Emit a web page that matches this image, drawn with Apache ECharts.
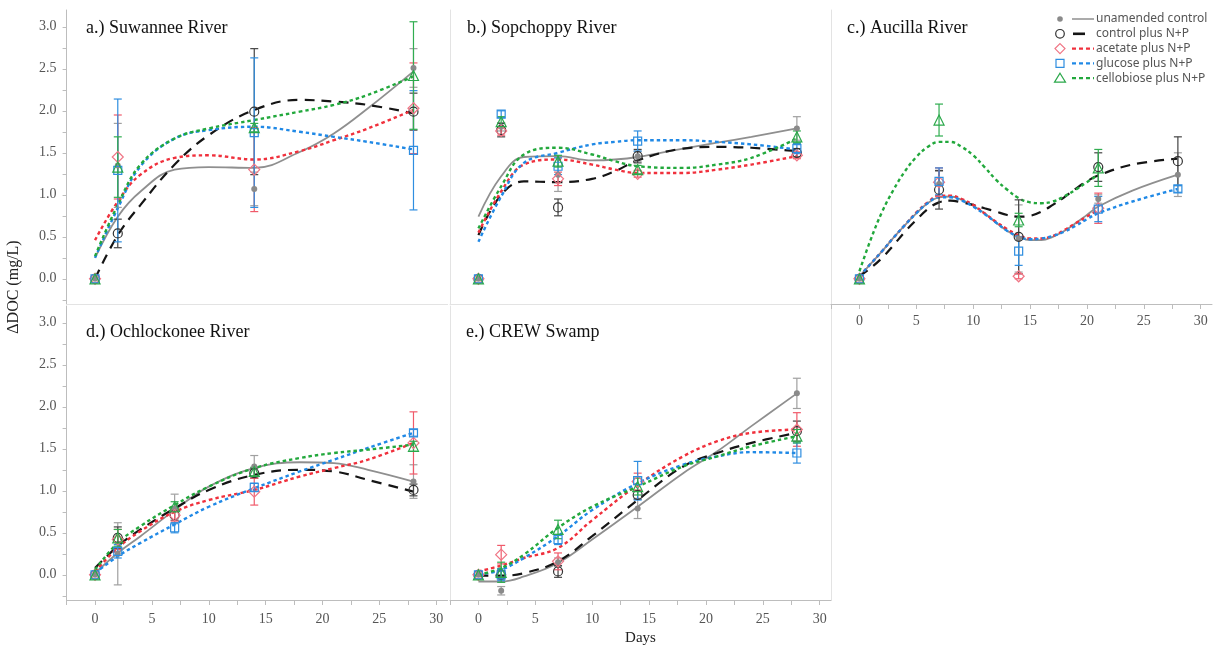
<!DOCTYPE html>
<html><head><meta charset="utf-8">
<script src="https://cdn.jsdelivr.net/npm/echarts@6/dist/echarts.min.js"></script>
<style>html,body{margin:0;padding:0;background:#fff}#c{width:1214px;height:649px}</style>
</head><body><div id="c"></div>
<script>
// ---------- DATA ----------
const seriesNames = ['unamended control','control plus N+P','acetate plus N+P','glucose plus N+P','cellobiose plus N+P'];
const panelTitles = ['a.) Suwannee River','b.) Sopchoppy River','c.) Aucilla River','d.) Ochlockonee River','e.) CREW Swamp'];
const xTickLabels = [0,5,10,15,20,25,30];
const xTickMarks = [-2.5,0,2.5,5,7.5,10,12.5,15,17.5,20,22.5,25,27.5,30];
const yTickLabels = [0,0.5,1,1.5,2,2.5,3];
const yTickMarks = [-0.25,0,0.25,0.5,0.75,1,1.25,1.5,1.75,2,2.25,2.5,2.75,3];

// Panel a: Suwannee River (rows: unamended, control, acetate, glucose, cellobiose)
const aDays = [0, 2, 14, 28];
const aMean = [
  [0, 1.35, 1.07, 2.51],
  [0, 0.54, 1.99, 1.99],
  [0, 1.45, 1.30, 2.03],
  [0, 1.29, 1.74, 1.53],
  [0, 1.33, 1.80, 2.42]
];
const aErr = [
  [0, 0.50, 0.20, 0.23],
  [0, 0.17, 0.75, 0.22],
  [0, 0.50, 0.50, 0.54],
  [0, 0.85, 0.89, 0.71],
  [0, 0.36, 0.05, 0.64]
];
const aFitDays = [0, 2, 4, 7, 10, 14, 18, 21, 24, 28];
const aFit = [
  [0.25, 0.74, 1.04, 1.30, 1.33, 1.32, 1.51, 1.73, 2.03, 2.47],
  [0.00, 0.52, 0.88, 1.36, 1.71, 2.01, 2.13, 2.11, 2.07, 1.97],
  [0.46, 0.92, 1.24, 1.44, 1.47, 1.42, 1.52, 1.65, 1.79, 2.01],
  [0.25, 0.84, 1.34, 1.67, 1.77, 1.81, 1.75, 1.69, 1.63, 1.54],
  [0.27, 0.88, 1.36, 1.67, 1.79, 1.89, 1.99, 2.07, 2.19, 2.41]
];

// Panel b: Sopchoppy River
const bDays = [0, 2, 7, 14, 28];
const bMean = [
  [0, 1.81, 1.24, 1.46, 1.79],
  [0, 1.77, 0.85, 1.46, 1.50],
  [0, 1.76, 1.19, 1.25, 1.47],
  [0, 1.96, 1.34, 1.64, 1.55],
  [0, 1.87, 1.40, 1.30, 1.69]
];
const bErr = [
  [0, 0.05, 0.20, 0.06, 0.14],
  [0, 0.08, 0.10, 0.08, 0.05],
  [0, 0.05, 0.08, 0.04, 0.04],
  [0, 0.04, 0.10, 0.12, 0.06],
  [0, 0.06, 0.07, 0.05, 0.07]
];
const bFitDays = [0, 2, 4, 7, 10, 12, 14, 18, 21, 24, 28];
const bFit = [
  [0.74, 1.22, 1.45, 1.46, 1.41, 1.42, 1.45, 1.55, 1.62, 1.69, 1.79],
  [0.52, 1.00, 1.16, 1.15, 1.19, 1.28, 1.41, 1.55, 1.57, 1.56, 1.52],
  [0.55, 1.04, 1.36, 1.42, 1.36, 1.30, 1.26, 1.26, 1.30, 1.36, 1.46],
  [0.44, 0.98, 1.38, 1.50, 1.60, 1.63, 1.65, 1.65, 1.63, 1.60, 1.54],
  [0.60, 1.10, 1.48, 1.56, 1.48, 1.40, 1.34, 1.32, 1.36, 1.44, 1.67]
];

// Panel c: Aucilla River
const cDays = [0, 7, 14, 21, 28];
const cMean = [
  [0, 1.13, 0.48, 0.95, 1.24],
  [0, 1.06, 0.50, 1.33, 1.40],
  [0, 1.15, 0.03, 0.84, null],
  [0, 1.16, 0.33, 0.83, 1.07],
  [0, 1.89, 0.70, 1.32, null]
];
const cErr = [
  [0, 0.15, 0.40, 0.05, 0.26],
  [0, 0.23, 0.44, 0.17, 0.29],
  [0, 0.17, 0.03, 0.18, null],
  [0, 0.16, 0.17, 0.15, 0.04],
  [0, 0.19, 0.08, 0.22, null]
];
const cFitDays = [0, 1, 2, 3, 4, 5, 6, 7, 8, 9, 10, 11, 12, 13, 14, 15, 16, 17, 18, 19, 20, 21, 24, 28];
const cFit = [
  [0.03, 0.18, 0.33, 0.49, 0.64, 0.78, 0.90, 0.97, 0.98, 0.94, 0.87, 0.78, 0.67, 0.57, 0.50, 0.46, 0.46, 0.50, 0.57, 0.66, 0.76, 0.86, 1.05, 1.24],
  [0.03, 0.13, 0.25, 0.40, 0.56, 0.70, 0.83, 0.91, 0.93, 0.91, 0.88, 0.84, 0.80, 0.76, 0.74, 0.75, 0.80, 0.88, 0.97, 1.07, 1.16, 1.23, 1.36, 1.43],
  [0.03, 0.18, 0.33, 0.49, 0.64, 0.79, 0.91, 0.99, 0.99, 0.95, 0.88, 0.78, 0.68, 0.59, 0.52, 0.48, 0.48, 0.51, 0.58, 0.66, 0.74, 0.82, null, null],
  [0.03, 0.18, 0.33, 0.49, 0.64, 0.78, 0.90, 0.97, 0.97, 0.93, 0.86, 0.77, 0.67, 0.57, 0.50, 0.47, 0.48, 0.51, 0.56, 0.63, 0.71, 0.78, 0.92, 1.07],
  [0.09, 0.47, 0.80, 1.06, 1.28, 1.45, 1.57, 1.63, 1.63, 1.57, 1.47, 1.33, 1.18, 1.06, 0.96, 0.91, 0.90, 0.92, 0.98, 1.06, 1.15, 1.24, null, null]
];

// Panel d: Ochlockonee River
const dDays = [0, 2, 7, 14, 28];
const dMean = [
  [0, 0.25, 0.79, 1.29, 1.11],
  [0, 0.44, 0.71, 1.21, 1.01],
  [0, 0.42, 0.71, 0.99, 1.57],
  [0, 0.28, 0.56, 1.04, 1.69],
  [0, 0.44, 0.81, 1.23, 1.53]
];
const dErr = [
  [0, 0.37, 0.17, 0.13, 0.20],
  [0, 0.13, 0.06, 0.06, 0.07],
  [0, 0.12, 0.07, 0.16, 0.37],
  [0, 0.08, 0.06, 0.05, 0.04],
  [0, 0.10, 0.06, 0.05, 0.06]
];
const dFitDays = [0, 2, 4, 7, 10, 14, 18, 21, 24, 28];
const dFit = [
  [0.02, 0.26, 0.46, 0.77, 1.05, 1.27, 1.34, 1.33, 1.25, 1.11],
  [0.08, 0.34, 0.54, 0.79, 1.01, 1.19, 1.25, 1.23, 1.13, 0.99],
  [0.04, 0.32, 0.52, 0.75, 0.89, 1.01, 1.17, 1.27, 1.37, 1.57],
  [0.02, 0.22, 0.38, 0.60, 0.81, 1.03, 1.23, 1.37, 1.51, 1.69],
  [0.06, 0.38, 0.58, 0.83, 1.05, 1.27, 1.39, 1.45, 1.49, 1.55]
];

// Panel e: CREW Swamp
const eDays = [0, 2, 7, 14, 28];
const eMean = [
  [0, -0.19, 0.15, 0.79, 2.16],
  [0, 0.00, 0.04, 0.95, 1.71],
  [0, 0.24, 0.16, 1.11, 1.73],
  [0, 0.00, 0.42, 1.12, 1.45],
  [0, 0.03, 0.54, 1.05, 1.65]
];
const eErr = [
  [0, 0.05, 0.05, 0.12, 0.18],
  [0, 0.05, 0.07, 0.05, 0.12],
  [0, 0.11, 0.10, 0.10, 0.20],
  [0, 0.07, 0.06, 0.23, 0.12],
  [0, 0.12, 0.11, 0.10, 0.08]
];
const eFitDays = [0, 2, 4, 7, 10, 14, 18, 21, 24, 28];
const eFit = [
  [-0.08, -0.08, -0.02, 0.14, 0.42, 0.81, 1.21, 1.47, 1.77, 2.16],
  [-0.01, -0.01, 0.02, 0.16, 0.46, 0.89, 1.29, 1.45, 1.57, 1.69],
  [0.04, 0.11, 0.20, 0.32, 0.65, 1.07, 1.41, 1.59, 1.69, 1.73],
  [0.00, 0.06, 0.20, 0.46, 0.77, 1.09, 1.31, 1.41, 1.46, 1.45],
  [0.00, 0.08, 0.24, 0.56, 0.81, 1.05, 1.29, 1.41, 1.53, 1.65]
];

// ---------- STYLE ----------
const SERIF = "'Liberation Serif','Times New Roman',serif";
const styles = [
  {line:'#8f8f8f', lw:1.8, dash:'solid', sym:'circle', size:6, fill:'#8a8a8a', stroke:'#8a8a8a', err:'#a0a0a0'},
  {line:'#151515', lw:2.2, dash:[10,7], sym:'circle', size:9, fill:'rgba(0,0,0,0)', stroke:'#333333', err:'#444444'},
  {line:'#f0303c', lw:2.4, dash:[3.5,3], sym:'diamond', size:11, fill:'rgba(0,0,0,0)', stroke:'#f07585', err:'#f05a6a'},
  {line:'#2089e6', lw:2.4, dash:[3.5,3], sym:'rect', size:8, fill:'rgba(0,0,0,0)', stroke:'#2f8ee0', err:'#2f8ee0'},
  {line:'#22a83c', lw:2.4, dash:[3.5,3], sym:'triangle', size:10, fill:'rgba(0,0,0,0)', stroke:'#2aa84a', err:'#30ad50'}
];
const panels = [
  {days:aDays, mean:aMean, err:aErr, fitDays:aFitDays, fit:aFit},
  {days:bDays, mean:bMean, err:bErr, fitDays:bFitDays, fit:bFit},
  {days:cDays, mean:cMean, err:cErr, fitDays:cFitDays, fit:cFit},
  {days:dDays, mean:dMean, err:dErr, fitDays:dFitDays, fit:dFit},
  {days:eDays, mean:eMean, err:eErr, fitDays:eFitDays, fit:eFit}
];
const gridPos = [
  {left:66.6, top:10, width:381, height:294},
  {left:450, top:10, width:381, height:294},
  {left:831, top:10, width:381, height:294},
  {left:66.6, top:306, width:381, height:294},
  {left:450, top:306, width:381, height:294}
];
const titlePos = [[86,19],[467,19],[847,19],[86,323],[466,323]];
const showXLabels = [false,false,true,true,true];
const showYLabels = [true,false,false,true,false];
const AXIS = '#bdbdbd', LIGHT = '#e3e3e3';

const xAxes = gridPos.map((g, i) => ({
  type:'value', gridIndex:i, min:-2.5, max:31, position:'bottom',
  axisLine:{show:true, onZero:false, lineStyle:{color: showXLabels[i] ? AXIS : LIGHT, width:1}},
  axisTick:{show:showXLabels[i], customValues:xTickMarks, length:5, lineStyle:{color:AXIS}},
  axisLabel:{show:showXLabels[i], customValues:xTickLabels, margin: i===2 ? 10 : 12,
    color:'#555', fontFamily:SERIF, fontSize:14},
  splitLine:{show:false},
  name: i===4 ? 'Days' : '', nameLocation:'middle', nameGap:31,
  nameTextStyle:{fontFamily:SERIF, fontSize:15, color:'#222'}
}));
const yAxes = gridPos.map((g, i) => ({
  type:'value', gridIndex:i, min:-0.3, max:3.2, position:'left',
  axisLine:{show:true, onZero:false, lineStyle:{color: showYLabels[i] ? AXIS : LIGHT, width:1}},
  axisTick:{show:showYLabels[i], customValues:yTickMarks, length:4, lineStyle:{color:AXIS}},
  axisLabel:{show:showYLabels[i], customValues:yTickLabels, margin:10,
    formatter:v => Number(v).toFixed(1), color:'#555', fontFamily:SERIF, fontSize:14},
  splitLine:{show:false}
}));
// right border of panel e
yAxes.push({type:'value', gridIndex:4, position:'right', min:-0.3, max:3.2,
  axisLine:{show:true, onZero:false, lineStyle:{color:LIGHT}}, axisTick:{show:false}, axisLabel:{show:false}, splitLine:{show:false}});

function errRenderer(color) {
  return function (params, api) {
    const x = api.value(0), y = api.value(1), e = api.value(2);
    if (!e || isNaN(y)) return null;
    const t = api.coord([x, y + e]);
    const b = api.coord([x, y - e]);
    const w = 4;
    const st = {stroke:color, lineWidth:1.2, fill:null};
    return {type:'group', children:[
      {type:'line', shape:{x1:t[0], y1:t[1], x2:b[0], y2:b[1]}, style:st},
      {type:'line', shape:{x1:t[0]-w, y1:t[1], x2:t[0]+w, y2:t[1]}, style:st},
      {type:'line', shape:{x1:b[0]-w, y1:b[1], x2:b[0]+w, y2:b[1]}, style:st}
    ]};
  };
}

const series = [];
panels.forEach((p, pi) => {
  for (let s = 0; s < 5; s++) {
    const st = styles[s];
    series.push({
      type:'line', name:seriesNames[s], xAxisIndex:pi, yAxisIndex:pi,
      data:p.fitDays.map((d, k) => [d, p.fit[s][k]]).filter(v => v[1] != null),
      smooth:0.4, symbol:'none', silent:true, z:2,
      lineStyle:{color:st.line, width:st.lw, type:st.dash}
    });
  }
  for (let s = 0; s < 5; s++) {
    const st = styles[s];
    series.push({
      type:'custom', name:seriesNames[s], xAxisIndex:pi, yAxisIndex:pi, z:3, silent:true,
      renderItem:errRenderer(st.err),
      data:p.days.map((d, k) => [d, p.mean[s][k], p.err[s][k]]).filter(v => v[1] != null && v[2])
    });
  }
  for (let s = 0; s < 5; s++) {
    const st = styles[s];
    series.push({
      type:'scatter', name:seriesNames[s], xAxisIndex:pi, yAxisIndex:pi, z:4, silent:true,
      symbol:st.sym, symbolSize:st.size,
      itemStyle:{color:st.fill, borderColor:st.stroke, borderWidth: s === 0 ? 0 : 1.2, opacity:1},
      data:p.days.map((d, k) => [d, p.mean[s][k]]).filter(v => v[1] != null)
    });
  }
});

// Legend (custom, marker + line sample + text)
const legendGraphics = [];
const lgX = 1060, lgY0 = 19, lgStep = 14.8;
seriesNames.forEach((name, i) => {
  const st = styles[i];
  const cy = lgY0 + i * lgStep;
  let marker;
  if (i === 0) marker = {type:'circle', shape:{cx:lgX, cy:cy, r:2.8}, style:{fill:st.fill}};
  else if (i === 1) marker = {type:'circle', shape:{cx:lgX, cy:cy, r:4.3}, style:{fill:null, stroke:st.stroke, lineWidth:1.2}};
  else if (i === 2) marker = {type:'polygon', shape:{points:[[lgX,cy-5],[lgX+5,cy],[lgX,cy+5],[lgX-5,cy]]}, style:{fill:null, stroke:st.stroke, lineWidth:1.2}};
  else if (i === 3) marker = {type:'rect', shape:{x:lgX-4, y:cy-4, width:8, height:8}, style:{fill:null, stroke:st.stroke, lineWidth:1.2}};
  else marker = {type:'polygon', shape:{points:[[lgX,cy-5],[lgX+5.5,cy+4],[lgX-5.5,cy+4]]}, style:{fill:null, stroke:st.stroke, lineWidth:1.2}};
  legendGraphics.push(marker);
  const x1 = i === 1 ? 1073 : 1072, x2 = i === 1 ? 1085 : 1094;
  legendGraphics.push({type:'line', shape:{x1:x1, y1:cy, x2:x2, y2:cy},
    style:{stroke:st.line, lineWidth: i === 0 ? 1.5 : (i === 1 ? 2.6 : 2.2), lineDash: i >= 2 ? [4,3] : null}});
  legendGraphics.push({type:'text', x:1096, y:cy,
    style:{text:name, fill:'#555', font:"12px 'Noto Sans','Open Sans',sans-serif", align:'left', verticalAlign:'middle'}});
});
legendGraphics.push({type:'text', x:14, y:287, rotation:Math.PI/2,
  style:{text:'ΔDOC (mg/L)', fill:'#222', font:"16px " + SERIF, align:'center', verticalAlign:'middle'}});

const option = {
  animation:false,
  backgroundColor:'#ffffff',
  title: panelTitles.map((t, i) => ({text:t, left:titlePos[i][0], top:titlePos[i][1], padding:0,
    textStyle:{fontFamily:SERIF, fontSize:18, fontWeight:'normal', color:'#111'}})),
  grid: gridPos.map(g => Object.assign({containLabel:false}, g)),
  xAxis: xAxes,
  yAxis: yAxes,
  series: series,
  graphic: legendGraphics
};
const chart = echarts.init(document.getElementById('c'));
chart.setOption(option);
</script>
</body></html>
